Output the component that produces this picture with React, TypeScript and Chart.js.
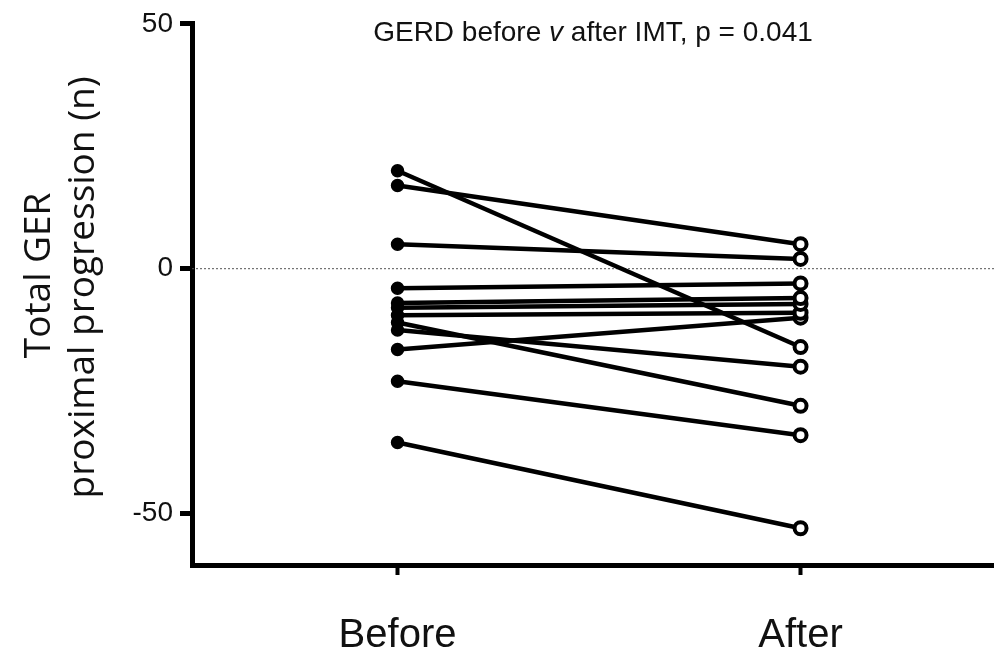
import React, { useEffect, useRef } from "react";
import { Chart, registerables } from "chart.js";

Chart.register(...registerables);

const categories = ["Before", "After"];
const beforeValues = [20, 17, 5, -4, -7, -8, -9.5, -11, -12.5, -16.5, -23, -35.5];
const afterValues = [-16, 5, 2, -3, -6, -7.2, -9, -28, -20, -10, -34, -53];
const yTicks = [50, 0, -50];
const titleParts = [
  { text: "GERD before ", italic: false },
  { text: "v", italic: true },
  { text: " after IMT, p = 0.041", italic: false },
];
const yTitle = ["Total GER", "proximal progression (n)"];

const FONT = "'Liberation Sans', Arial, Helvetica, sans-serif";
const TITLE_FONT = "'Open Sans', 'Noto Sans', sans-serif";

const titlePlugin = {
  id: "mixedTitle",
  afterDatasetsDraw(chart: any) {
    const { ctx, chartArea } = chart;
    ctx.save();
    const size = 28;
    const widths = titleParts.map((p) => {
      ctx.font = `${p.italic ? "italic " : ""}${size}px ${FONT}`;
      return ctx.measureText(p.text).width;
    });
    const total = widths.reduce((a, b) => a + b, 0);
    let x = (chartArea.left + chartArea.right) / 2 - total / 2;
    ctx.fillStyle = "#111";
    ctx.textBaseline = "alphabetic";
    ctx.textAlign = "left";
    titleParts.forEach((p, i) => {
      ctx.font = `${p.italic ? "italic " : ""}${size}px ${FONT}`;
      ctx.fillText(p.text, x, 41);
      x += widths[i];
    });
    ctx.restore();
  },
};

const yTitlePlugin = {
  id: "yTitle",
  afterDraw(chart: any) {
    const { ctx, chartArea } = chart;
    const mid = (chartArea.top + chartArea.bottom) / 2;
    const lines = [
      { text: yTitle[0], baselineX: 50, centerY: mid - 19 },
      { text: yTitle[1], baselineX: 94, centerY: mid - 7 },
    ];
    ctx.save();
    ctx.fillStyle = "#111";
    ctx.font = `37px ${TITLE_FONT}`;
    ctx.textAlign = "center";
    ctx.textBaseline = "alphabetic";
    lines.forEach((l) => {
      ctx.save();
      ctx.translate(l.baselineX, l.centerY);
      ctx.rotate(-Math.PI / 2);
      ctx.fillText(l.text, 0, 0);
      ctx.restore();
    });
    ctx.restore();
  },
};

export default function App() {
  const ref = useRef<HTMLCanvasElement>(null);

  useEffect(() => {
    document.body.style.margin = "0";
    const canvas = ref.current;
    if (!canvas) return;

    const pairDatasets = beforeValues.map((b, i) => ({
      type: "line" as const,
      label: `Subject ${i + 1}`,
      data: [
        { x: 0, y: b },
        { x: 1, y: afterValues[i] },
      ],
      borderColor: "#000",
      borderWidth: 4.5,
      pointRadius: [6, 6],
      pointBackgroundColor: ["#000", "#fff"],
      pointBorderColor: "#000",
      pointBorderWidth: [1.5, 4],
      pointStyle: "circle",
      order: 1,
    }));

    const chart = new Chart(canvas, {
      type: "line",
      data: {
        datasets: [
          {
            label: "zero",
            data: [
              { x: -0.51, y: 0 },
              { x: 1.48, y: 0 },
            ],
            borderColor: "#555",
            borderWidth: 1,
            borderDash: [2, 2],
            pointRadius: 0,
            order: 2,
          },
          ...pairDatasets,
        ],
      },
      options: {
        responsive: false,
        animation: false,
        layout: { autoPadding: false, padding: { top: 23, right: 0, left: 0, bottom: 0 } },
        plugins: {
          legend: { display: false },
          tooltip: { enabled: false },
          title: { display: false },
        },
        scales: {
          x: {
            type: "linear",
            min: -0.51,
            max: 1.48,
            afterBuildTicks: (scale: any) => {
              scale.ticks = categories.map((_, i) => ({ value: i }));
            },
            afterFit: (scale: any) => {
              scale.height = 85;
            },
            ticks: {
              callback: (v: any) => categories[v as number] ?? "",
              color: "#111",
              font: { family: FONT, size: 40 },
              padding: 37,
              maxRotation: 0,
              autoSkip: false,
            },
            grid: {
              drawOnChartArea: false,
              drawTicks: true,
              tickLength: 10,
              tickWidth: 4,
              tickColor: "#000",
            },
            border: { display: true, color: "#000", width: 5 },
          },
          y: {
            type: "linear",
            min: -60.5,
            max: 50,
            afterBuildTicks: (scale: any) => {
              scale.ticks = yTicks.map((v) => ({ value: v }));
            },
            afterFit: (scale: any) => {
              scale.width = 192;
            },
            ticks: {
              color: "#111",
              font: { family: FONT, size: 28 },
              padding: 7,
            },
            grid: {
              drawOnChartArea: false,
              drawTicks: true,
              tickLength: 12,
              tickWidth: 5,
              tickColor: "#000",
            },
            border: { display: true, color: "#000", width: 5 },
          },
        },
      },
      plugins: [titlePlugin, yTitlePlugin],
    });

    return () => chart.destroy();
  }, []);

  return (
    <div style={{ width: 994, height: 650 }}>
      <canvas ref={ref} width={994} height={650} style={{ display: "block" }} />
    </div>
  );
}
